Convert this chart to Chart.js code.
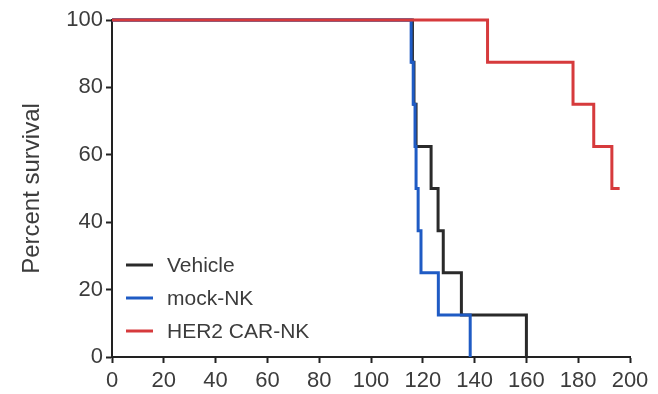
<!DOCTYPE html>
<html>
<head>
<meta charset="utf-8">
<script src="https://cdn.jsdelivr.net/npm/chart.js@4.4.0/dist/chart.umd.min.js"></script>
<style>
  html, body { margin: 0; padding: 0; background: #fff; }
  #wrap { width: 658px; height: 394px; }
</style>
</head>
<body>
<div id="wrap"><canvas id="c" width="658" height="394"></canvas></div>
<script>
/* --- Data --- */
const seriesNames = ['Vehicle', 'mock-NK', 'HER2 CAR-NK'];

const vehicleDays = [0, 116, 116.6, 117.4, 123.2, 125.9, 127.9, 134.9, 160];
const vehicleSurv = [100, 87.5, 75, 62.5, 50, 37.5, 25, 12.5, 0];

const mockDays = [0, 115.5, 116.3, 117, 117.4, 118.2, 119.3, 126, 138.3];
const mockSurv = [100, 87.5, 75, 62.5, 50, 37.5, 25, 12.5, 0];

const carDays = [0, 145, 178, 186, 193, 196];
const carSurv = [100, 87.5, 75, 62.5, 50, 50];

const xRange = [0, 200];
const yRange = [0, 100];
const tickStep = 20;

/* --- Style --- */
const COLORS = {
  vehicle: '#2a2a2a',
  mock: '#1f5bc4',
  car: '#d63a3c',
  axis: '#222222',
  text: '#3c3c3c'
};
const FONT = "'Liberation Sans', Arial, sans-serif";

function toPoints(days, surv) {
  return days.map((d, i) => ({ x: d, y: surv[i] }));
}

/* --- Legend drawn inside the plot, Prism style --- */
const insideLegend = {
  id: 'insideLegend',
  afterDraw(chart) {
    const ctx = chart.ctx;
    const x0 = 126, lineLen = 27, textX = 167;
    const rows = [265, 298, 331];
    ctx.save();
    ctx.font = '21px ' + FONT;
    ctx.textBaseline = 'middle';
    ctx.textAlign = 'left';
    chart.data.datasets.forEach((ds, i) => {
      const y = rows[i];
      ctx.strokeStyle = ds.borderColor;
      ctx.lineWidth = 3;
      ctx.beginPath();
      ctx.moveTo(x0, y);
      ctx.lineTo(x0 + lineLen, y);
      ctx.stroke();
      ctx.fillStyle = COLORS.text;
      ctx.fillText(ds.label, textX, y + 1);
    });
    ctx.restore();
  }
};

const ctx = document.getElementById('c');

new Chart(ctx, {
  type: 'line',
  data: {
    datasets: [
      {
        label: seriesNames[0],
        data: toPoints(vehicleDays, vehicleSurv),
        borderColor: COLORS.vehicle,
        order: 3
      },
      {
        label: seriesNames[1],
        data: toPoints(mockDays, mockSurv),
        borderColor: COLORS.mock,
        order: 2
      },
      {
        label: seriesNames[2],
        data: toPoints(carDays, carSurv),
        borderColor: COLORS.car,
        order: 1
      }
    ].map(ds => ({
      ...ds,
      stepped: 'before',   // horizontal first, then the drop (Kaplan-Meier)
      borderWidth: 3,
      pointRadius: 0,
      fill: false,
      clip: false
    }))
  },
  options: {
    responsive: false,
    devicePixelRatio: 1,
    animation: false,
    layout: { padding: { left: 0, right: 28, top: 20, bottom: 0 } },
    plugins: {
      legend: { display: false },
      tooltip: { enabled: false }
    },
    scales: {
      x: {
        type: 'linear',
        min: xRange[0],
        max: xRange[1],
        afterFit(scale) { scale.height = 37; },
        border: { display: true, color: COLORS.axis, width: 2 },
        grid: {
          display: true,
          drawOnChartArea: false,
          drawTicks: true,
          tickLength: 6,
          tickWidth: 2,
          tickColor: COLORS.axis
        },
        ticks: {
          stepSize: tickStep,
          padding: 5,
          color: COLORS.text,
          font: { family: FONT, size: 22 },
          maxRotation: 0
        }
      },
      y: {
        type: 'linear',
        min: yRange[0],
        max: yRange[1],
        afterFit(scale) { scale.width = 112; },
        border: { display: true, color: COLORS.axis, width: 2 },
        grid: {
          display: true,
          drawOnChartArea: false,
          drawTicks: true,
          tickLength: 6,
          tickWidth: 2,
          tickColor: COLORS.axis
        },
        ticks: {
          stepSize: tickStep,
          padding: 3,
          color: COLORS.text,
          font: { family: FONT, size: 22 }
        },
        title: {
          display: true,
          text: 'Percent survival',
          color: COLORS.text,
          font: { family: FONT, size: 24 },
          padding: { top: 18, bottom: 0 }
        }
      }
    }
  },
  plugins: [insideLegend]
});
</script>
</body>
</html>
